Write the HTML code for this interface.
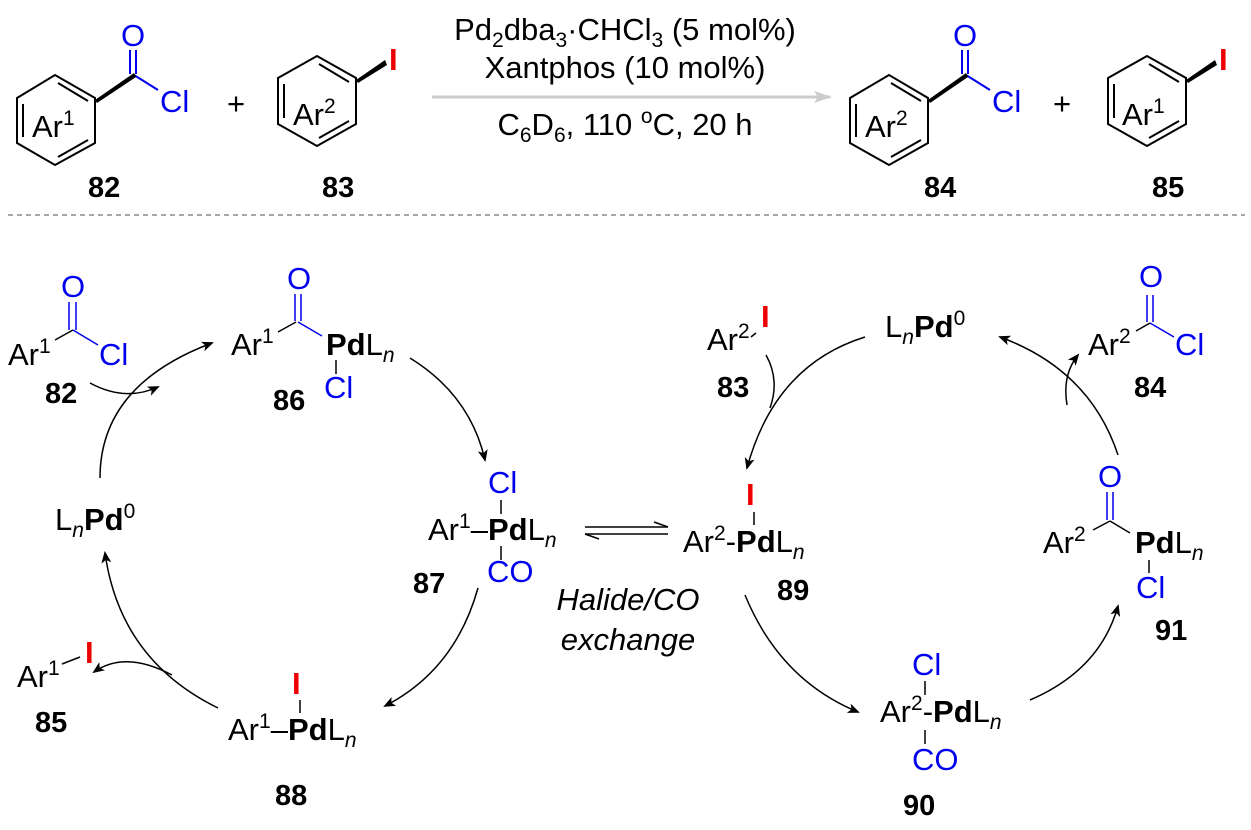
<!DOCTYPE html>
<html><head><meta charset="utf-8"><style>
body{margin:0;background:#fff}
svg{display:block}
text{font-family:"Liberation Sans",sans-serif;font-size:31px;fill:#000}
.b{fill:#0000ee}.r{fill:#ee0000;font-weight:bold}.bd{font-weight:bold}
.lb{font-weight:bold;font-size:29px}
.s{font-size:21px}
.n{font-size:21px;font-style:italic}
</style></head><body>
<svg width="1251" height="830" viewBox="0 0 1251 830" xmlns="http://www.w3.org/2000/svg">
<defs>
<marker id="a" markerWidth="12" markerHeight="10" refX="10" refY="5" orient="auto" markerUnits="userSpaceOnUse"><path d="M0,0 L12,5 L0,10 L3,5 Z" fill="#000"/></marker>
<marker id="g" markerWidth="18" markerHeight="12" refX="16" refY="6" orient="auto" markerUnits="userSpaceOnUse"><path d="M0,0 L18,6 L0,12 L4,6 Z" fill="#ccc"/></marker>
</defs>
<g stroke="#000" stroke-width="2" fill="none">
<polygon points="17,98 55,75 95,98 95,143 55,165 17,143"/>
<line x1="23" y1="104" x2="23" y2="137"/><line x1="58" y1="83" x2="88" y2="101"/><line x1="58" y1="157" x2="88" y2="140"/>
<line x1="130" y1="50" x2="130" y2="74" stroke="#00e"/><line x1="136" y1="50" x2="136" y2="74" stroke="#00e"/>
<line x1="134" y1="75" x2="158" y2="90" stroke="#00e"/>
<polygon points="278,78 317,56 356,78 356,124 317,146 278,124"/>
<line x1="284" y1="84" x2="284" y2="118"/><line x1="319" y1="64" x2="349" y2="82"/><line x1="319" y1="138" x2="349" y2="121"/>
<polygon points="850,98 889,75 928,98 928,143 889,165 850,143"/>
<line x1="856" y1="104" x2="856" y2="137"/><line x1="891" y1="83" x2="921" y2="101"/><line x1="891" y1="157" x2="921" y2="140"/>
<line x1="962" y1="50" x2="962" y2="74" stroke="#00e"/><line x1="968" y1="50" x2="968" y2="74" stroke="#00e"/>
<line x1="966" y1="75" x2="990" y2="90" stroke="#00e"/>
<polygon points="1108,78 1147,56 1186,78 1186,124 1147,146 1108,124"/>
<line x1="1114" y1="84" x2="1114" y2="118"/><line x1="1149" y1="64" x2="1179" y2="82"/><line x1="1149" y1="138" x2="1179" y2="121"/>
</g>
<polygon points="95,100 134,73 136,77 97,103" fill="#000"/>
<polygon points="356,80 385,60 387,65 358,83" fill="#000"/>
<polygon points="928,100 966,73 968,77 930,103" fill="#000"/>
<polygon points="1186,80 1215,60 1217,65 1188,83" fill="#000"/>
<text x="32" y="137">Ar<tspan class="s" dy="-12">1</tspan></text>
<text class="b" x="121" y="46">O</text><text class="b" x="160" y="112">Cl</text>
<text x="293" y="125">Ar<tspan class="s" dy="-12">2</tspan></text>
<text class="r" x="389" y="70">I</text>
<text x="227" y="114">+</text>
<text class="lb" x="88" y="197">82</text><text class="lb" x="322" y="197">83</text>
<line x1="432" y1="97" x2="830" y2="97" stroke="#ccc" stroke-width="3" marker-end="url(#g)"/>
<text x="625" y="40" text-anchor="middle">Pd<tspan class="s" dy="7">2</tspan><tspan dy="-7">dba</tspan><tspan class="s" dy="7">3</tspan><tspan dy="-7">·CHCl</tspan><tspan class="s" dy="7">3</tspan><tspan dy="-7"> (5 mol%)</tspan></text>
<text x="625" y="78" text-anchor="middle">Xantphos (10 mol%)</text>
<text x="625" y="135" text-anchor="middle">C<tspan class="s" dy="7">6</tspan><tspan dy="-7">D</tspan><tspan class="s" dy="7">6</tspan><tspan dy="-7">, 110 </tspan><tspan class="s" dy="-12">o</tspan><tspan dy="12">C, 20 h</tspan></text>
<text x="865" y="137">Ar<tspan class="s" dy="-12">2</tspan></text>
<text class="b" x="953" y="46">O</text><text class="b" x="992" y="112">Cl</text>
<text x="1053" y="114">+</text>
<text x="1122" y="125">Ar<tspan class="s" dy="-12">1</tspan></text>
<text class="r" x="1219" y="70">I</text>
<text class="lb" x="924" y="197">84</text><text class="lb" x="1152" y="197">85</text>
<line x1="8" y1="215" x2="1245" y2="215" stroke="#888" stroke-width="1.5" stroke-dasharray="5,4"/>

<g stroke="#000" stroke-width="1.5" fill="none">
<line x1="55" y1="340" x2="73" y2="330"/><line x1="73" y1="330" x2="98" y2="345" stroke="#00e"/>
<line x1="69" y1="302" x2="69" y2="330" stroke="#00e"/><line x1="76" y1="302" x2="76" y2="330" stroke="#00e"/>
<line x1="278" y1="332" x2="296" y2="322"/><line x1="298" y1="322" x2="322" y2="336" stroke="#00e"/>
<line x1="295" y1="294" x2="295" y2="321" stroke="#00e"/><line x1="301" y1="294" x2="301" y2="321" stroke="#00e"/>
<line x1="336" y1="360" x2="336" y2="374"/>
<line x1="501" y1="500" x2="501" y2="514"/><line x1="501" y1="546" x2="501" y2="560"/>
<line x1="754" y1="512" x2="754" y2="525"/>
<line x1="751" y1="337" x2="756" y2="333"/>
<line x1="1136" y1="331" x2="1150" y2="323"/><line x1="1150" y1="323" x2="1174" y2="337" stroke="#00e"/>
<line x1="1147" y1="295" x2="1147" y2="322" stroke="#00e"/><line x1="1153" y1="295" x2="1153" y2="322" stroke="#00e"/>
<line x1="1093" y1="530" x2="1110" y2="521"/><line x1="1110" y1="521" x2="1130" y2="533"/>
<line x1="1107" y1="492" x2="1107" y2="520" stroke="#00e"/><line x1="1113" y1="492" x2="1113" y2="520" stroke="#00e"/>
<line x1="1149" y1="560" x2="1149" y2="573"/>
<line x1="925" y1="681" x2="925" y2="695"/><line x1="925" y1="730" x2="925" y2="744"/>
<line x1="300" y1="700" x2="300" y2="713"/>
<line x1="62" y1="664" x2="80" y2="657"/>
<line x1="585" y1="527" x2="668" y2="527"/><path d="M654,522 L668,527"/>
<line x1="585" y1="534" x2="668" y2="534"/><path d="M599,539 L585,534"/>
<path d="M100,478 Q100,385 212,343" marker-end="url(#a)"/>
<path d="M90,383 Q125,402 158,387" marker-end="url(#a)"/>
<path d="M410,358 Q470,395 485,460" marker-end="url(#a)"/>
<path d="M478,588 Q455,670 385,706" marker-end="url(#a)"/>
<path d="M218,708 Q120,660 105,553" marker-end="url(#a)"/>
<path d="M172,675 Q125,650 94,672" marker-end="url(#a)"/>
<path d="M865,337 Q775,365 747,468" marker-end="url(#a)"/>
<path d="M766,355 Q780,380 770,408"/>
<path d="M745,595 Q780,680 858,712" marker-end="url(#a)"/>
<path d="M1030,700 Q1100,670 1118,606" marker-end="url(#a)"/>
<path d="M1118,455 Q1090,370 1000,337" marker-end="url(#a)"/>
<path d="M1067,405 Q1062,375 1078,355" marker-end="url(#a)"/>
</g>

<text x="8" y="365">Ar<tspan class="s" dy="-12">1</tspan></text>
<text class="b" x="61" y="297">O</text><text class="b" x="99" y="365">Cl</text>
<text class="lb" x="45" y="403">82</text>

<text x="231" y="355">Ar<tspan class="s" dy="-12">1</tspan></text>
<text class="b" x="287" y="289">O</text>
<text x="326" y="355"><tspan class="bd">Pd</tspan>L<tspan class="n" dy="7">n</tspan></text>
<text class="b" x="324" y="398">Cl</text>
<text class="lb" x="273" y="410">86</text>

<text class="b" x="488" y="493">Cl</text>
<text x="428" y="540">Ar<tspan class="s" dy="-12">1</tspan><tspan dy="12">–</tspan><tspan class="bd">Pd</tspan>L<tspan class="n" dy="7">n</tspan></text>
<text class="b" x="487" y="582">CO</text>
<text class="lb" x="413" y="593">87</text>

<text class="r" x="746" y="505">I</text>
<text x="683" y="552">Ar<tspan class="s" dy="-12">2</tspan><tspan dy="12">-</tspan><tspan class="bd">Pd</tspan>L<tspan class="n" dy="7">n</tspan></text>
<text class="lb" x="777" y="600">89</text>
<text x="628" y="610" text-anchor="middle" font-style="italic">Halide/CO</text>
<text x="628" y="650" text-anchor="middle" font-style="italic">exchange</text>

<text x="707" y="350">Ar<tspan class="s" dy="-12">2</tspan></text>
<text class="r" x="761" y="327">I</text>
<text class="lb" x="717" y="397">83</text>
<text x="885" y="337">L<tspan class="n" dy="7">n</tspan><tspan class="bd" dy="-7">Pd</tspan><tspan class="s" dy="-12">0</tspan></text>

<text x="1088" y="355">Ar<tspan class="s" dy="-12">2</tspan></text>
<text class="b" x="1139" y="287">O</text><text class="b" x="1175" y="355">Cl</text>
<text class="lb" x="1134" y="397">84</text>

<text class="b" x="1098" y="487">O</text>
<text x="1043" y="553">Ar<tspan class="s" dy="-12">2</tspan></text>
<text x="1135" y="553"><tspan class="bd">Pd</tspan>L<tspan class="n" dy="7">n</tspan></text>
<text class="b" x="1136" y="598">Cl</text>
<text class="lb" x="1155" y="640">91</text>

<text class="b" x="912" y="675">Cl</text>
<text x="880" y="722">Ar<tspan class="s" dy="-12">2</tspan><tspan dy="12">-</tspan><tspan class="bd">Pd</tspan>L<tspan class="n" dy="7">n</tspan></text>
<text class="b" x="912" y="770">CO</text>
<text class="lb" x="903" y="815">90</text>

<text class="r" x="292" y="694">I</text>
<text x="228" y="740">Ar<tspan class="s" dy="-12">1</tspan><tspan dy="12">–</tspan><tspan class="bd">Pd</tspan>L<tspan class="n" dy="7">n</tspan></text>
<text class="lb" x="275" y="805">88</text>

<text x="17" y="687">Ar<tspan class="s" dy="-12">1</tspan></text>
<text class="r" x="85" y="663">I</text>
<text class="lb" x="35" y="732">85</text>

<text x="55" y="530">L<tspan class="n" dy="7">n</tspan><tspan class="bd" dy="-7">Pd</tspan><tspan class="s" dy="-12">0</tspan></text>
</svg>
</body></html>
